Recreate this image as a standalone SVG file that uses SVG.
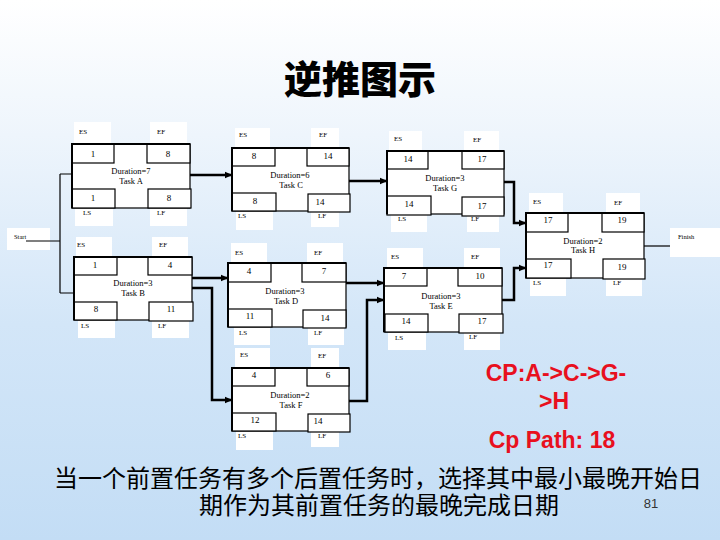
<svg xmlns="http://www.w3.org/2000/svg" width="720" height="540" viewBox="0 0 720 540">
<defs>
<linearGradient id="bg" x1="0" y1="0" x2="0" y2="1">
<stop offset="0" stop-color="#ffffff"/>
<stop offset="0.25" stop-color="#eef5fc"/>
<stop offset="0.6" stop-color="#d3e6f8"/>
<stop offset="1" stop-color="#c3ddf5"/>
</linearGradient>
<marker id="arr" markerUnits="userSpaceOnUse" markerWidth="8" markerHeight="8" viewBox="0 0 8 8" refX="7.5" refY="4" orient="auto">
<path d="M0,0.5 L8,4 L0,7.5 Z" fill="#000"/>
</marker>
<style>
.pad{fill:#fff;stroke:none}
.box{fill:#fff;stroke:#000;stroke-width:1.2}
.edge{stroke:#000;stroke-width:2;fill:none}
.lbl{font-family:"Liberation Serif",serif;font-size:7px;fill:#000;text-anchor:middle}
.val{font-family:"Liberation Serif",serif;font-size:9px;fill:#000;text-anchor:middle}
.dur{font-family:"Liberation Serif",serif;font-size:8.5px;fill:#000;text-anchor:middle}
.con{stroke:#000;stroke-width:2.5;fill:none}
.thin{stroke:#000;stroke-width:1.2;fill:none}
.red{font-family:"Liberation Sans",Arial,sans-serif;font-weight:bold;font-size:23px;fill:#e8101e;text-anchor:middle}
.cn{font-family:"Liberation Sans","Noto Sans CJK SC",sans-serif;font-size:24px;fill:#000;text-anchor:middle}
</style>
</defs>
<rect x="0" y="0" width="720" height="540" fill="url(#bg)"/>
<text x="360" y="93" font-family="'Liberation Sans','Noto Sans CJK SC',sans-serif" font-weight="900" font-size="38" text-anchor="middle" fill="#000">逆推图示</text>

<g id="start">
<rect class="pad" x="7" y="228" width="43" height="22"/>
<text x="14" y="239" font-family="'Liberation Serif',serif" font-size="6.5" fill="#000">Start</text>
</g>
<g id="finish">
<rect class="pad" x="670" y="228" width="50" height="29"/>
<text x="678" y="239" font-family="'Liberation Serif',serif" font-size="6.5" fill="#000">Finish</text>
</g>

<g id="taskA" transform="translate(72,144)">
<rect class="pad" x="2" y="-22" width="37" height="22"/><rect class="pad" x="78" y="-22" width="37" height="22"/>
<rect class="pad" x="3" y="64" width="38" height="18"/><rect class="pad" x="78" y="64" width="37" height="18"/>
<rect class="box" x="0" y="0" width="118" height="64"/>
<rect class="box" x="0" y="0" width="42" height="19"/><rect class="box" x="75" y="0" width="43" height="19"/>
<rect class="box" x="0" y="45" width="43" height="19"/><rect class="box" x="76" y="45" width="43" height="19"/>
<path class="edge" d="M0,64 V0 H118"/>
<text class="lbl" x="11" y="-10">ES</text><text class="lbl" x="89" y="-10">EF</text>
<text class="lbl" x="15" y="71">LS</text><text class="lbl" x="89" y="71">LF</text>
<text class="val" x="21" y="13">1</text><text class="val" x="96" y="13">8</text>
<text class="val" x="21" y="57">1</text><text class="val" x="97" y="57">8</text>
<text class="dur" x="59" y="30">Duration=7</text><text class="dur" x="59" y="40">Task A</text>
</g>

<g id="taskC" transform="translate(232,148)">
<rect class="pad" x="3" y="-20" width="35" height="20"/><rect class="pad" x="79" y="-20" width="28" height="20"/>
<rect class="pad" x="4" y="63" width="37" height="19"/><rect class="pad" x="79" y="63" width="28" height="16"/>
<rect class="box" x="0" y="0" width="117" height="63"/>
<rect class="box" x="0" y="0" width="43" height="18"/><rect class="box" x="75" y="0" width="42" height="18"/>
<rect class="box" x="0" y="45" width="44" height="18"/><rect class="box" x="76" y="46" width="42" height="18"/>
<path class="edge" d="M0,63 V0 H117"/>
<text class="lbl" x="11" y="-11">ES</text><text class="lbl" x="91" y="-11">EF</text>
<text class="lbl" x="10" y="70">LS</text><text class="lbl" x="90" y="70">LF</text>
<text class="val" x="22" y="11">8</text><text class="val" x="96" y="11">14</text>
<text class="val" x="23" y="56">8</text><text class="val" x="88" y="57">14</text>
<text class="dur" x="58" y="30">Duration=6</text><text class="dur" x="59" y="40">Task C</text>
</g>

<g id="taskG" transform="translate(387,151)">
<rect class="pad" x="2" y="-20" width="33" height="20"/><rect class="pad" x="77" y="-20" width="35" height="20"/>
<rect class="pad" x="4" y="63" width="36" height="18"/><rect class="pad" x="80" y="63" width="32" height="18"/>
<rect class="box" x="0" y="0" width="117" height="63"/>
<rect class="box" x="0" y="0" width="41" height="18"/><rect class="box" x="75" y="0" width="42" height="18"/>
<rect class="box" x="0" y="45" width="44" height="19"/><rect class="box" x="75" y="46" width="42" height="19"/>
<path class="edge" d="M0,63 V0 H117"/>
<text class="lbl" x="11" y="-10">ES</text><text class="lbl" x="90" y="-9">EF</text>
<text class="lbl" x="15" y="70">LS</text><text class="lbl" x="88" y="70">LF</text>
<text class="val" x="21" y="11">14</text><text class="val" x="95" y="11">17</text>
<text class="val" x="22" y="56">14</text><text class="val" x="95" y="58">17</text>
<text class="dur" x="58" y="30">Duration=3</text><text class="dur" x="58" y="40">Task G</text>
</g>

<g id="taskH" transform="translate(526,213)">
<rect class="pad" x="3" y="-20" width="34" height="20"/><rect class="pad" x="80" y="-20" width="34" height="20"/>
<rect class="pad" x="4" y="65" width="36" height="18"/><rect class="pad" x="80" y="65" width="36" height="18"/>
<rect class="box" x="0" y="0" width="118" height="65"/>
<rect class="box" x="0" y="0" width="42" height="19"/><rect class="box" x="76" y="0" width="42" height="19"/>
<rect class="box" x="0" y="46" width="45" height="19"/><rect class="box" x="77" y="46" width="42" height="20"/>
<path class="edge" d="M0,65 V0 H118"/>
<text class="lbl" x="11" y="-9">ES</text><text class="lbl" x="92" y="-8">EF</text>
<text class="lbl" x="11" y="72">LS</text><text class="lbl" x="91" y="72">LF</text>
<text class="val" x="22" y="10">17</text><text class="val" x="96" y="10">19</text>
<text class="val" x="22" y="55">17</text><text class="val" x="96" y="57">19</text>
<text class="dur" x="57" y="31">Duration=2</text><text class="dur" x="57" y="40">Task H</text>
</g>

<g id="taskB" transform="translate(74,257)">
<rect class="pad" x="2" y="-20" width="36" height="20"/><rect class="pad" x="78" y="-20" width="36" height="20"/>
<rect class="pad" x="4" y="63" width="37" height="18"/><rect class="pad" x="78" y="63" width="37" height="18"/>
<rect class="box" x="0" y="0" width="118" height="63"/>
<rect class="box" x="0" y="0" width="43" height="18"/><rect class="box" x="74" y="0" width="44" height="18"/>
<rect class="box" x="0" y="45" width="43" height="18"/><rect class="box" x="75" y="45" width="44" height="19"/>
<path class="edge" d="M0,63 V0 H118"/>
<text class="lbl" x="7" y="-10">ES</text><text class="lbl" x="89" y="-10">EF</text>
<text class="lbl" x="11" y="71">LS</text><text class="lbl" x="88" y="71">LF</text>
<text class="val" x="21" y="11">1</text><text class="val" x="96" y="11">4</text>
<text class="val" x="22" y="55">8</text><text class="val" x="97" y="55">11</text>
<text class="dur" x="59" y="29">Duration=3</text><text class="dur" x="59" y="39">Task B</text>
</g>

<g id="taskD" transform="translate(228,263)">
<rect class="pad" x="3" y="-20" width="36" height="20"/><rect class="pad" x="79" y="-20" width="36" height="20"/>
<rect class="pad" x="6" y="64" width="36" height="18"/><rect class="pad" x="80" y="64" width="36" height="18"/>
<rect class="box" x="0" y="0" width="118" height="64"/>
<rect class="box" x="0" y="0" width="43" height="19"/><rect class="box" x="74" y="0" width="44" height="19"/>
<rect class="box" x="0" y="46" width="44" height="18"/><rect class="box" x="75" y="47" width="43" height="18"/>
<path class="edge" d="M0,64 V0 H118"/>
<text class="lbl" x="11" y="-8">ES</text><text class="lbl" x="90" y="-8">EF</text>
<text class="lbl" x="15" y="72">LS</text><text class="lbl" x="90" y="72">LF</text>
<text class="val" x="21" y="11">4</text><text class="val" x="96" y="11">7</text>
<text class="val" x="22" y="56">11</text><text class="val" x="97" y="58">14</text>
<text class="dur" x="57" y="31">Duration=3</text><text class="dur" x="58" y="41">Task D</text>
</g>

<g id="taskE" transform="translate(384,268)">
<rect class="pad" x="3" y="-20" width="36" height="20"/><rect class="pad" x="80" y="-20" width="36" height="20"/>
<rect class="pad" x="4" y="64" width="38" height="18"/><rect class="pad" x="80" y="64" width="36" height="18"/>
<rect class="box" x="0" y="0" width="118" height="64"/>
<rect class="box" x="0" y="0" width="43" height="18"/><rect class="box" x="74" y="0" width="44" height="18"/>
<rect class="box" x="1" y="46" width="43" height="18"/><rect class="box" x="75" y="46" width="44" height="19"/>
<path class="edge" d="M0,64 V0 H118"/>
<text class="lbl" x="11" y="-9">ES</text><text class="lbl" x="91" y="-9">EF</text>
<text class="lbl" x="15" y="72">LS</text><text class="lbl" x="89" y="71">LF</text>
<text class="val" x="20" y="11">7</text><text class="val" x="96" y="11">10</text>
<text class="val" x="22" y="56">14</text><text class="val" x="98" y="56">17</text>
<text class="dur" x="57" y="31">Duration=3</text><text class="dur" x="57" y="41">Task E</text>
</g>

<g id="taskF" transform="translate(232,368)">
<rect class="pad" x="3" y="-20" width="35" height="20"/><rect class="pad" x="79" y="-20" width="28" height="20"/>
<rect class="pad" x="4" y="63" width="37" height="19"/><rect class="pad" x="79" y="63" width="28" height="16"/>
<rect class="box" x="0" y="0" width="117" height="63"/>
<rect class="box" x="0" y="0" width="43" height="18"/><rect class="box" x="75" y="0" width="42" height="18"/>
<rect class="box" x="0" y="45" width="44" height="18"/><rect class="box" x="76" y="46" width="42" height="18"/>
<path class="edge" d="M0,63 V0 H117"/>
<text class="lbl" x="12" y="-11">ES</text><text class="lbl" x="90" y="-10">EF</text>
<text class="lbl" x="10" y="70">LS</text><text class="lbl" x="90" y="70">LF</text>
<text class="val" x="22" y="10">4</text><text class="val" x="96" y="10">6</text>
<text class="val" x="23" y="55">12</text><text class="val" x="86" y="56" font-size="8">14</text>
<text class="dur" x="58" y="30">Duration=2</text><text class="dur" x="59" y="40">Task F</text>
</g>

<g id="connectors">
<path class="con" d="M190,175 H232" marker-end="url(#arr)"/>
<path class="con" d="M349,181 H387" marker-end="url(#arr)"/>
<path class="con" d="M504,182 H514 V223 H526" marker-end="url(#arr)"/>
<path class="con" d="M502,300 H514 V268 H526" marker-end="url(#arr)"/>
<path class="con" d="M192,278 H228" marker-end="url(#arr)"/>
<path class="con" d="M192,288 H212 V400 H232" marker-end="url(#arr)"/>
<path class="con" d="M346,283 H384" marker-end="url(#arr)"/>
<path class="con" d="M349,401 H367 V300 H384" marker-end="url(#arr)"/>
<path class="thin" d="M26,241 H60 M60,174 V293 M60,174 H72 M60,293 H74"/>
<path class="thin" d="M644,246 H670"/>
</g>

<text class="red" x="556" y="381">CP:A-&gt;C-&gt;G-</text>
<text class="red" x="554" y="409">&gt;H</text>
<text class="red" x="552" y="448">Cp Path: 18</text>
<text class="cn" x="378" y="487">当一个前置任务有多个后置任务时，选择其中最小最晚开始日</text>
<text class="cn" x="379" y="514">期作为其前置任务的最晚完成日期</text>
<text x="651" y="508" font-family="'Liberation Sans',Arial,sans-serif" font-size="13" fill="#333" text-anchor="middle">81</text>
</svg>
